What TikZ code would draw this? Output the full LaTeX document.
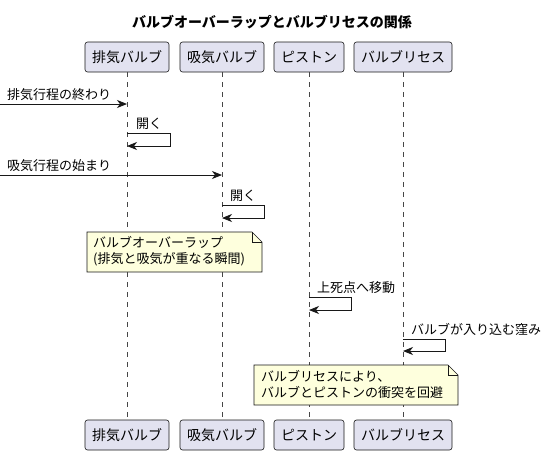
\documentclass[tikz,border=0pt]{standalone}
\usepackage{fontspec}
\setmainfont{Noto Sans CJK JP}
\usepackage{xcolor}
\usepackage{tikz}
\usetikzlibrary{arrows.meta,calc,positioning}
\definecolor{ink}{HTML}{181818}
\definecolor{partfill}{HTML}{E2E2F0}
\definecolor{notefill}{HTML}{FEFFDD}
\tikzset{
  part/.style={draw=ink, fill=partfill, rounded corners=2.5pt, minimum height=30pt,
    inner xsep=7pt, line width=0.6pt, font=\fontsize{14}{16}\selectfont},
  life/.style={draw=ink!80, line width=0.5pt, dash pattern=on 5pt off 5pt},
  msg/.style={-{Stealth[length=10pt,width=8pt,inset=3pt]}, draw=ink, line width=0.9pt},
  lab/.style={anchor=base west, inner sep=0pt, font=\fontsize{13}{15}\selectfont},
  ttl/.style={font=\bfseries\fontsize{14}{16}\selectfont},
  note/.style={draw=ink, fill=notefill, line width=0.6pt},
  notetxt/.style={anchor=north west, inner sep=0pt, align=left,
    font=\fontsize{13}{16}\selectfont}
}
\begin{document}
\begin{tikzpicture}[x=1pt,y=-1pt]
  \useasboundingbox (0,0) rectangle (545,455);
  \node[ttl] (title) at (272,22) {バルブオーバーラップとバルブリセスの関係};

  % participants, top and bottom
  \node[part] (ex) at (127,57) {排気バルブ};
  \node[part] (in) at (222,57) {吸気バルブ};
  \node[part] (pi) at (309,57) {ピストン};
  \node[part] (re) at (403,57) {バルブリセス};
  \node[part] (exB) at (127,435) {排気バルブ};
  \node[part] (inB) at (222,435) {吸気バルブ};
  \node[part] (piB) at (309,435) {ピストン};
  \node[part] (reB) at (403,435) {バルブリセス};

  % lifelines
  \foreach \p in {ex,in,pi,re}
    \draw[life] (\p.south) -- (\p B.north);

  % exhaust stroke ends
  \coordinate (src1) at (0,104);
  \draw[msg] (src1) -- (ex |- src1);
  \node[lab] (m1) at (7,99) {排気行程の終わり};

  \coordinate (ex2) at (127,133);
  \coordinate (ex3) at (127,146);
  \draw[msg] (ex2) -- ++(43,0) -- ++(0,13) -- (ex3);
  \node[lab] (m2) at (136,128) {開く};

  % intake stroke starts
  \coordinate (src2) at (0,175);
  \draw[msg] (src2) -- (in |- src2);
  \node[lab] (m3) at (7,170) {吸気行程の始まり};

  \coordinate (in2) at (222,205);
  \coordinate (in3) at (222,218);
  \draw[msg] (in2) -- ++(42,0) -- ++(0,13) -- (in3);
  \node[lab] (m4) at (230,200) {開く};

  % note: overlap
  \draw[note] (87,232) -- (252,232) -- (262,242) -- (262,272) -- (87,272) -- cycle;
  \draw[note, fill=none] (252,232) -- (252,242) -- (262,242);
  \node[notetxt] (n1) at (93,236) {バルブオーバーラップ\\(排気と吸気が重なる瞬間)};

  % piston
  \coordinate (pi2) at (309,297);
  \coordinate (pi3) at (309,310);
  \draw[msg] (pi2) -- ++(42,0) -- ++(0,13) -- (pi3);
  \node[lab] (m5) at (317,292) {上死点へ移動};

  % recess
  \coordinate (re2) at (403,339);
  \coordinate (re3) at (403,351);
  \draw[msg] (re2) -- ++(42,0) -- ++(0,12) -- (re3);
  \node[lab] (m6) at (411,334) {バルブが入り込む窪み};

  % note: recess
  \draw[note] (254,365) -- (448,365) -- (458,375) -- (458,405) -- (254,405) -- cycle;
  \draw[note, fill=none] (448,365) -- (448,375) -- (458,375);
  \node[notetxt] (n2) at (261,370) {バルブリセスにより、\\バルブとピストンの衝突を回避};
\end{tikzpicture}
\end{document}
